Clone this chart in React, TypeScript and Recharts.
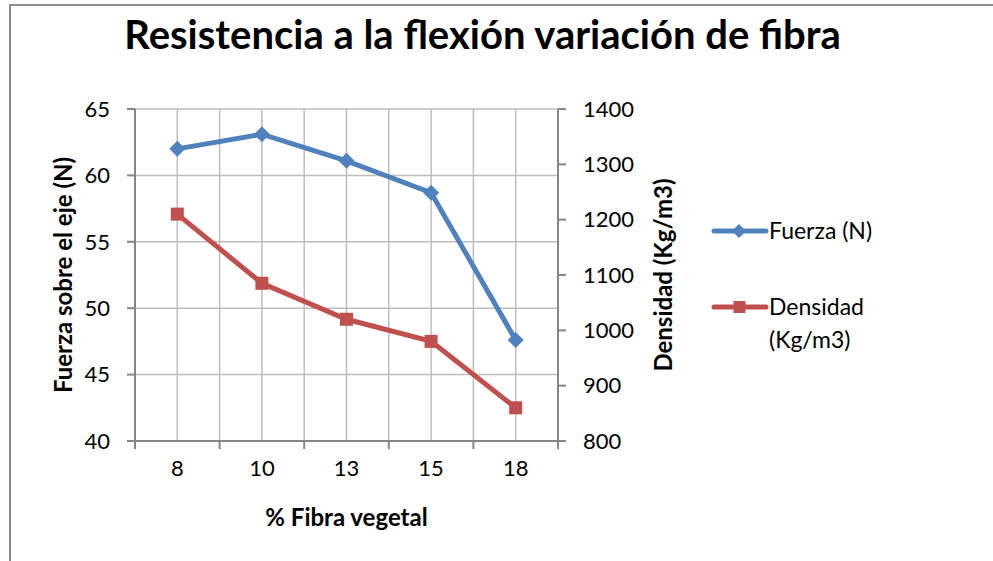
import React from "react";
import { CartesianGrid, Line, LineChart, XAxis, YAxis } from "recharts";

const categorias = ["8", "10", "13", "15", "18"];
const fuerza = [62.0, 63.1, 61.1, 58.7, 47.6];
const densidad = [1210, 1085, 1020, 980, 860];
const ticksFuerza = [40, 45, 50, 55, 60, 65];
const ticksDensidad = [800, 900, 1000, 1100, 1200, 1300, 1400];

const AZUL = "#4f81bd";
const ROJO = "#c0504d";
const EJE = "#868686";
const GRID = "#bdbdbd";
const FONT = "Lato, 'Open Sans', sans-serif";
const TICK_FS = 22;
const TITLE_FS = 24;

const data = categorias.map((c, i) => ({
  pos: i + 0.5,
  cat: c,
  fuerza: fuerza[i],
  densidad: densidad[i],
}));

// boundaries on whole numbers, labels on the half steps
const xTicks = Array.from({ length: categorias.length * 2 + 1 }, (_, i) => i / 2);

function XTick(props: any) {
  const { x, y, payload } = props;
  const v = payload.value as number;
  if (Number.isInteger(v)) {
    return <line x1={x} x2={x} y1={y} y2={y + 8} stroke={EJE} strokeWidth={2} />;
  }
  const label = categorias[Math.floor(v)];
  return (
    <text x={x} y={y + 35} textAnchor="middle" fontSize={TICK_FS} fill="#000" fontFamily={FONT}>
      {label}
    </text>
  );
}

function Diamond(p: any) {
  const { cx, cy, index } = p;
  const r = 8;
  return (
    <path
      key={`d-${index}`}
      d={`M${cx},${cy - r}L${cx + r},${cy}L${cx},${cy + r}L${cx - r},${cy}Z`}
      fill={AZUL}
    />
  );
}

function Square(p: any) {
  const { cx, cy, index } = p;
  const s = 13;
  return <rect key={`s-${index}`} x={cx - s / 2} y={cy - s / 2} width={s} height={s} fill={ROJO} />;
}

function Leyenda() {
  const items = [
    { color: AZUL, lines: ["Fuerza (N)"], marker: "d" },
    { color: ROJO, lines: ["Densidad", "(Kg/m3)"], marker: "s" },
  ];
  return (
    <div style={{ fontFamily: FONT, fontSize: 23, color: "#000" }}>
      {items.map((it, i) => (
        <div key={i} style={{ display: "flex", alignItems: "flex-start", height: 76 }}>
          <svg width={58} height={22} style={{ flex: "none" }}>
            <line x1={3} x2={55} y1={11} y2={11} stroke={it.color} strokeWidth={5} strokeLinecap="round" />
            {it.marker === "d" ? (
              <path d="M28,4L35,11L28,18L21,11Z" fill={it.color} />
            ) : (
              <rect x={22.5} y={5} width={12} height={12} fill={it.color} />
            )}
          </svg>
          <div style={{ lineHeight: "33px", marginTop: -6 }}>
            {it.lines.map((l) => (
              <div key={l}>{l}</div>
            ))}
          </div>
        </div>
      ))}
    </div>
  );
}

function rotLabel(text: string, dx: number) {
  return ({ viewBox }: any) => {
    const cx = viewBox.x + dx;
    const cy = viewBox.y + viewBox.height / 2;
    return (
      <text
        x={cx}
        y={cy}
        transform={`rotate(-90 ${cx} ${cy})`}
        textAnchor="middle"
        dominantBaseline="central"
        fontFamily={FONT}
        fontWeight={700}
        fontSize={TITLE_FS}
        fill="#000"
      >
        {text}
      </text>
    );
  };
}

export default function App() {
  return (
    <div
      style={{
        position: "absolute",
        left: 0,
        top: 0,
        width: 993,
        height: 561,
        overflow: "hidden",
        background: "#fff",
      }}
    >
      <div
        style={{
          position: "absolute",
          left: 9,
          top: 4,
          width: 1100,
          height: 700,
          borderLeft: "2px solid #8c8c8c",
          borderTop: "2px solid #8c8c8c",
        }}
      />
      <div
        style={{
          position: "absolute",
          left: 0,
          top: 10,
          width: 965,
          textAlign: "center",
          fontFamily: FONT,
          fontWeight: 700,
          fontSize: 40,
          color: "#000",
        }}
      >
        Resistencia a la flexión variación de fibra
      </div>
      <div style={{ position: "absolute", left: 711, top: 220, width: 240 }}>
        <Leyenda />
      </div>
      <div style={{ position: "absolute", left: 0, top: 0 }}>
        <LineChart
          width={993}
          height={561}
          data={data}
          margin={{ top: 109, right: 315, bottom: 60, left: 0 }}
        >
          <CartesianGrid yAxisId="l" stroke={GRID} strokeWidth={1.5} />
          <XAxis
            dataKey="pos"
            type="number"
            domain={[0, categorias.length]}
            ticks={xTicks}
            interval={0}
            tick={<XTick />}
            tickLine={false}
            tickSize={0}
            tickMargin={0}
            axisLine={{ stroke: EJE, strokeWidth: 2 }}
            height={60}
            label={{
              content: ({ viewBox }: any) => (
                <text
                  x={viewBox.x + viewBox.width / 2}
                  y={viewBox.y + 85}
                  textAnchor="middle"
                  fontFamily={FONT}
                  fontWeight={700}
                  fontSize={TITLE_FS}
                  fill="#000"
                >
                  % Fibra vegetal
                </text>
              ),
            }}
          />
          <YAxis
            yAxisId="l"
            domain={[40, 65]}
            ticks={ticksFuerza}
            interval={0}
            width={135}
            tickSize={8}
            tickMargin={17}
            tick={{ fill: "#000", fontSize: TICK_FS, fontFamily: FONT }}
            tickLine={{ stroke: EJE, strokeWidth: 2 }}
            axisLine={{ stroke: EJE, strokeWidth: 2 }}
            label={{ content: rotLabel("Fuerza sobre el eje (N)", 62) }}
          />
          <YAxis
            yAxisId="r"
            orientation="right"
            domain={[800, 1400]}
            ticks={ticksDensidad}
            interval={0}
            width={120}
            tickSize={8}
            tickMargin={17}
            tick={{ fill: "#000", fontSize: TICK_FS, fontFamily: FONT, textAnchor: "start" }}
            tickLine={{ stroke: EJE, strokeWidth: 2 }}
            axisLine={{ stroke: EJE, strokeWidth: 2 }}
            label={{ content: rotLabel("Densidad (Kg/m3)", 104) }}
          />
          <Line
            yAxisId="l"
            dataKey="fuerza"
            name="Fuerza (N)"
            stroke={AZUL}
            strokeWidth={5}
            dot={Diamond}
            activeDot={false}
            isAnimationActive={false}
          />
          <Line
            yAxisId="r"
            dataKey="densidad"
            name="Densidad (Kg/m3)"
            stroke={ROJO}
            strokeWidth={5}
            dot={Square}
            activeDot={false}
            isAnimationActive={false}
          />
        </LineChart>
      </div>
    </div>
  );
}
